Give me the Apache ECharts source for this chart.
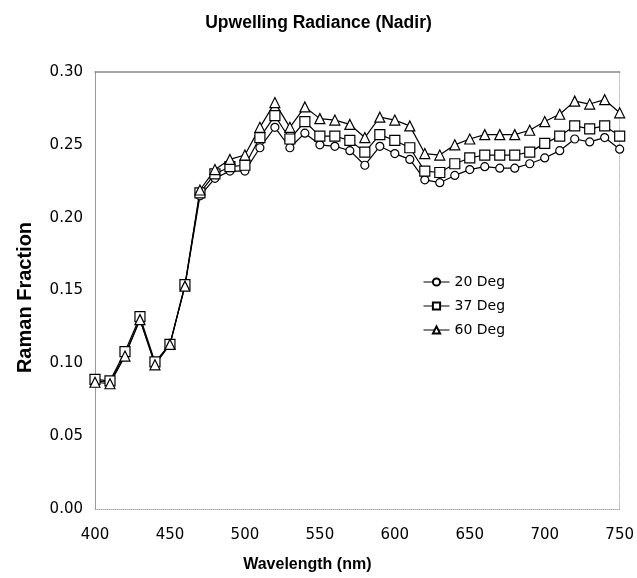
<!DOCTYPE html>
<html>
<head>
<meta charset="utf-8">
<script src="https://cdn.jsdelivr.net/npm/echarts@6/dist/echarts.min.js"></script>
<style>
html,body{margin:0;padding:0;background:#fff;}
#c{width:637px;height:578px;}
</style>
</head>
<body>
<div id="c"></div>
<script>
const wavelengths = [400,410,420,430,440,450,460,470,480,490,500,510,520,530,540,550,560,570,580,590,600,610,620,630,640,650,660,670,680,690,700,710,720,730,740,750];
const deg20 = [0.088,0.087,0.106,0.130,0.100,0.113,0.153,0.215,0.227,0.232,0.232,0.248,0.262,0.248,0.258,0.250,0.249,0.246,0.236,0.249,0.244,0.240,0.226,0.224,0.229,0.233,0.235,0.234,0.234,0.237,0.241,0.246,0.254,0.252,0.255,0.247];
const deg37 = [0.089,0.088,0.108,0.132,0.101,0.113,0.154,0.217,0.230,0.235,0.236,0.255,0.270,0.254,0.266,0.256,0.256,0.253,0.245,0.257,0.253,0.248,0.232,0.231,0.237,0.241,0.243,0.243,0.243,0.245,0.251,0.256,0.263,0.261,0.263,0.256];
const deg60 = [0.087,0.086,0.105,0.130,0.099,0.113,0.153,0.219,0.233,0.240,0.243,0.262,0.279,0.262,0.276,0.268,0.267,0.264,0.255,0.269,0.267,0.263,0.244,0.243,0.250,0.254,0.257,0.257,0.257,0.260,0.266,0.271,0.280,0.278,0.281,0.272];
const seriesNames = ['20 Deg','37 Deg','60 Deg'];
const xTicks = [400,450,500,550,600,650,700,750];
const yTicks = [0.00,0.05,0.10,0.15,0.20,0.25,0.30];

const pair = arr => wavelengths.map((w,i)=>[w,arr[i]]);
const font = 'Liberation Sans, Arial, sans-serif';
const numFont = 'DejaVu Sans, sans-serif';
const mk = (name, data, symbol, size) => ({
  name, type:'line', data: pair(data), symbol, symbolSize:size,
  showAllSymbol:true,
  lineStyle:{color:'#000',width:1.2},
  itemStyle:{color:'#fff',borderColor:'#000',borderWidth:1.2},
  emphasis:{disabled:true}, animation:false
});
const chart = echarts.init(document.getElementById('c'));
chart.setOption({
  backgroundColor:'#fff',
  animation:false,
  title:{text:'Upwelling Radiance (Nadir)',left:'center',top:9,
    textStyle:{fontFamily:font,fontSize:17.5,fontWeight:'bold',color:'#000'}},
  legend:{orient:'vertical',left:418,top:270,itemGap:10,itemWidth:26,itemHeight:9,
    data:seriesNames,
    lineStyle:{width:1},
    textStyle:{fontFamily:numFont,fontSize:14,color:'#000'}},
  grid:{left:95,right:15,top:72,bottom:66},
  xAxis:[{type:'value',min:xTicks[0],max:xTicks[xTicks.length-1],interval:50,
    name:'Wavelength (nm)',nameLocation:'middle',nameGap:48,
    nameTextStyle:{fontFamily:font,fontSize:16,fontWeight:'bold',color:'#000',padding:[0,100,0,0]},
    axisLine:{lineStyle:{color:'#aaa',width:1,type:'dotted'}},
    axisTick:{show:false},
    axisLabel:{fontFamily:numFont,fontSize:15,color:'#000',margin:19},
    splitLine:{show:false}},
    {type:'value',position:'top',min:400,max:750,
     axisLine:{show:true,onZero:false,lineStyle:{color:'#888',width:1.5}},
     axisTick:{show:false},axisLabel:{show:false},splitLine:{show:false}}],
  yAxis:[{type:'value',min:yTicks[0],max:yTicks[yTicks.length-1],interval:0.05,
    name:'Raman Fraction',nameLocation:'middle',nameGap:60,nameMoveOverlap:false,
    nameTextStyle:{fontFamily:font,fontSize:20,fontWeight:'bold',color:'#000',padding:[0,14,0,0]},
    axisLine:{show:true,lineStyle:{color:'#999',width:1}},
    axisTick:{show:false},
    axisLabel:{fontFamily:numFont,fontSize:15,color:'#000',margin:12,formatter:v=>v.toFixed(2)},
    splitLine:{show:false}},
    {type:'value',position:'right',min:0,max:0.3,
     axisLine:{show:true,onZero:false,lineStyle:{color:'#bbb',width:1,type:'dotted'}},
     axisTick:{show:false},axisLabel:{show:false},splitLine:{show:false}}],
  series:[
    mk(seriesNames[0],deg20,'circle',8),
    mk(seriesNames[1],deg37,'rect',10),
    mk(seriesNames[2],deg60,'triangle',10)
  ]
});
</script>
</body>
</html>
